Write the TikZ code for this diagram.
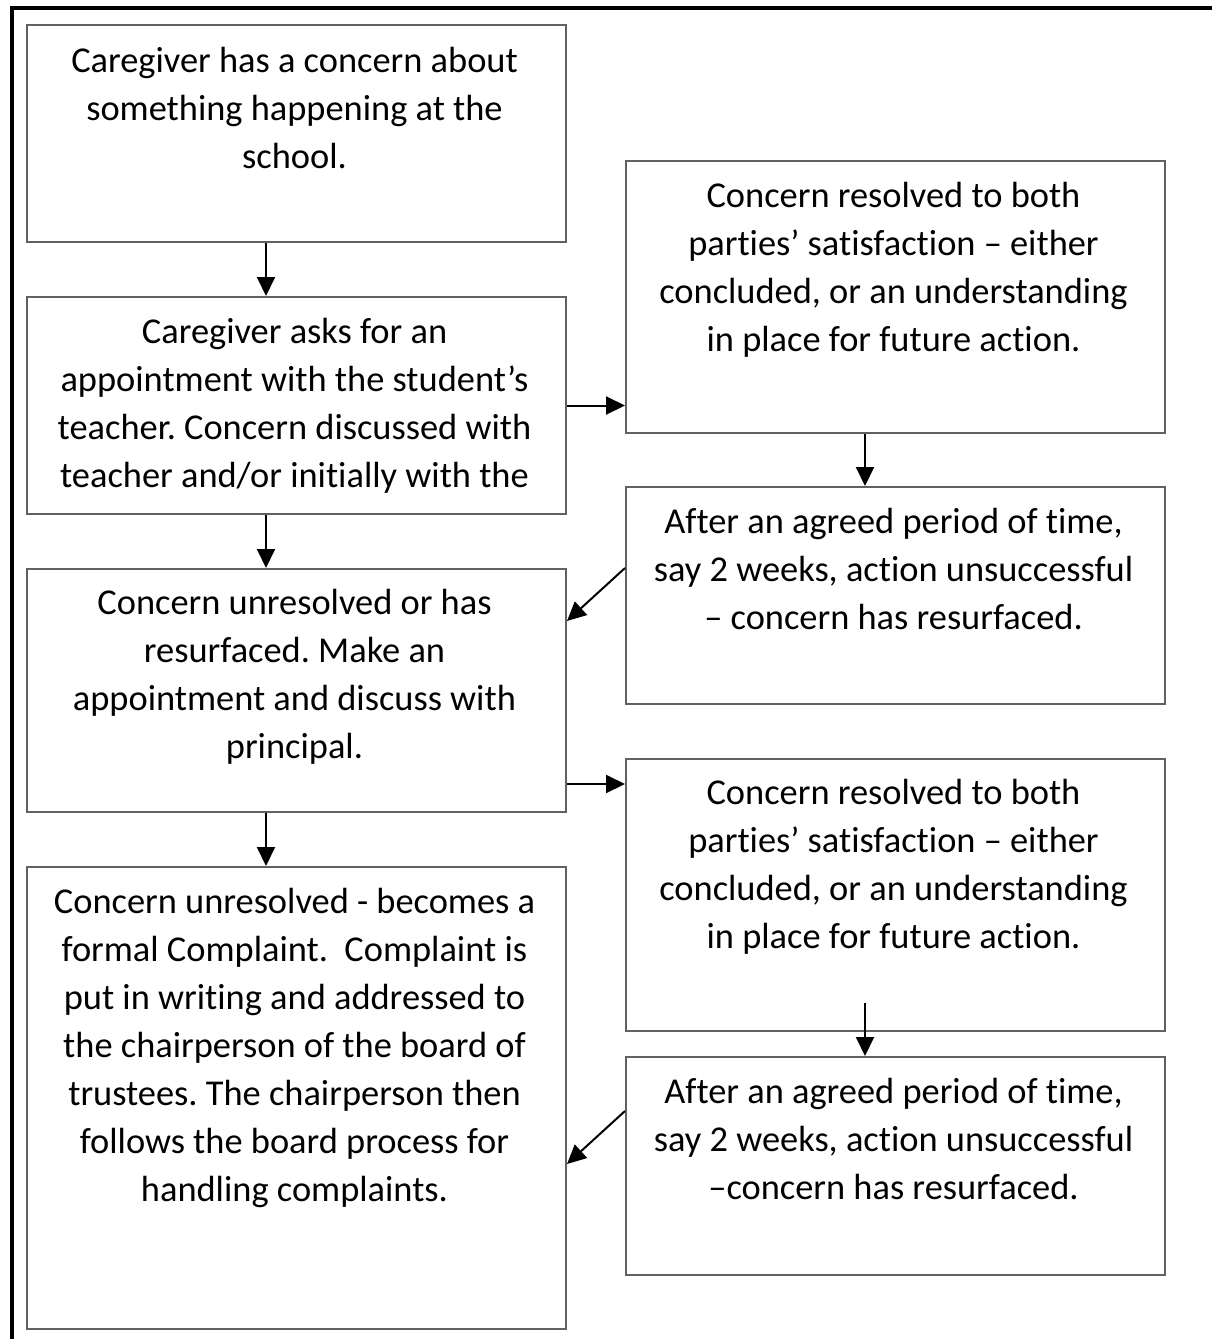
\documentclass[tikz,border=0pt]{standalone}
\usepackage{fontspec}
\setmainfont{Carlito}[RawFeature={-liga;-calt;-dlig;-clig;-rlig}]
\usetikzlibrary{arrows.meta}
\frenchspacing

\tikzset{
  box/.style={draw=black!62, line width=1pt, minimum width=269.5pt, inner sep=0pt, anchor=north west},
  txt/.style={align=center, inner sep=0pt, anchor=north, font=\fontsize{18.2}{24}\selectfont},
  arr/.style={-{Triangle[length=9.5pt,width=9pt]}, line width=1pt},
}

\begin{document}
\begin{tikzpicture}[x=0.5pt,y=-0.5pt]
  \useasboundingbox (0,0) rectangle (1212,1339);
  \begin{scope}
    % page frame
    \draw [line width=1.6pt] (1212,8) -- (12,8) -- (12,1339);

    % left column
    \node [box, minimum height=108.5pt] (a) at (26,24) {};
    \node [box, minimum height=108.5pt] (b) at (26,296) {};
    \node [box, minimum height=121.5pt] (c) at (26,568) {};
    \node [box, minimum height=231pt]   (d) at (26,866) {};

    % right column
    \node [box, minimum height=136pt]   (r1) at (625,160) {};
    \node [box, minimum height=108.5pt] (r2) at (625,486) {};
    \node [box, minimum height=136pt]   (r3) at (625,758) {};
    \node [box, minimum height=109pt]   (r4) at (625,1056) {};

    \node [txt] (ta) at ([xshift=-1pt,yshift=-7pt]a.north) {\strut Caregiver has a concern about\\something happening at the\\school.};
    \node [txt] (tb) at ([xshift=-1pt,yshift=-6.7pt]b.north) {\strut Caregiver asks for an\\appointment with the student’s\\teacher. Concern discussed with\\teacher and/or initially with the};
    \node [txt] (tc) at ([xshift=-1pt,yshift=-6pt]c.north) {\strut Concern unresolved or has\\resurfaced. Make an\\appointment and discuss with\\principal.};
    \node [txt] (td) at ([xshift=-1pt,yshift=-6.5pt]d.north) {\strut Concern unresolved - becomes a\\formal Complaint.\ \ Complaint is\\put in writing and addressed to\\the chairperson of the board of\\trustees. The chairperson then\\follows the board process for\\handling complaints.};
    \node [txt] (tr1) at ([xshift=-1pt,yshift=-6.5pt]r1.north) {\strut Concern resolved to both\\parties’ satisfaction – either\\concluded, or an understanding\\in place for future action.};
    \node [txt] (tr2) at ([xshift=-1pt,yshift=-6.7pt]r2.north) {\strut After an agreed period of time,\\say 2 weeks, action unsuccessful\\– concern has resurfaced.};
    \node [txt] (tr3) at ([xshift=-1pt,yshift=-6.2pt]r3.north) {\strut Concern resolved to both\\parties’ satisfaction – either\\concluded, or an understanding\\in place for future action.};
    \node [txt] (tr4) at ([xshift=-1pt,yshift=-6.5pt]r4.north) {\strut After an agreed period of time,\\say 2 weeks, action unsuccessful\\–concern has resurfaced.};

    % arrow lines
    \coordinate (lm) at (266,0);
    \coordinate (rm) at (865,0);
    \coordinate (h1) at (0,784);
    \coordinate (k1) at (0,568);
    \coordinate (k2) at (0,621);
    \coordinate (k3) at (0,1111);
    \coordinate (k4) at (0,1164);
    \coordinate (k5) at (0,1003);

    \draw [arr] (a.south -| lm) -- (b.north -| lm);
    \draw [arr] (b.south -| lm) -- (c.north -| lm);
    \draw [arr] (c.south -| lm) -- (d.north -| lm);
    \draw [arr] (b.east) -- (b.east -| r1.west);
    \draw [arr] (c.east |- h1) -- (r3.west |- h1);
    \draw [arr] (r1.south -| rm) -- (r2.north -| rm);
    \draw [arr] (rm |- k5) -- (r4.north -| rm);
    \draw [arr] (r2.west |- k1) -- (c.east |- k2);
    \draw [arr] (r4.west |- k3) -- (d.east |- k4);
  \end{scope}
\end{tikzpicture}
\end{document}
